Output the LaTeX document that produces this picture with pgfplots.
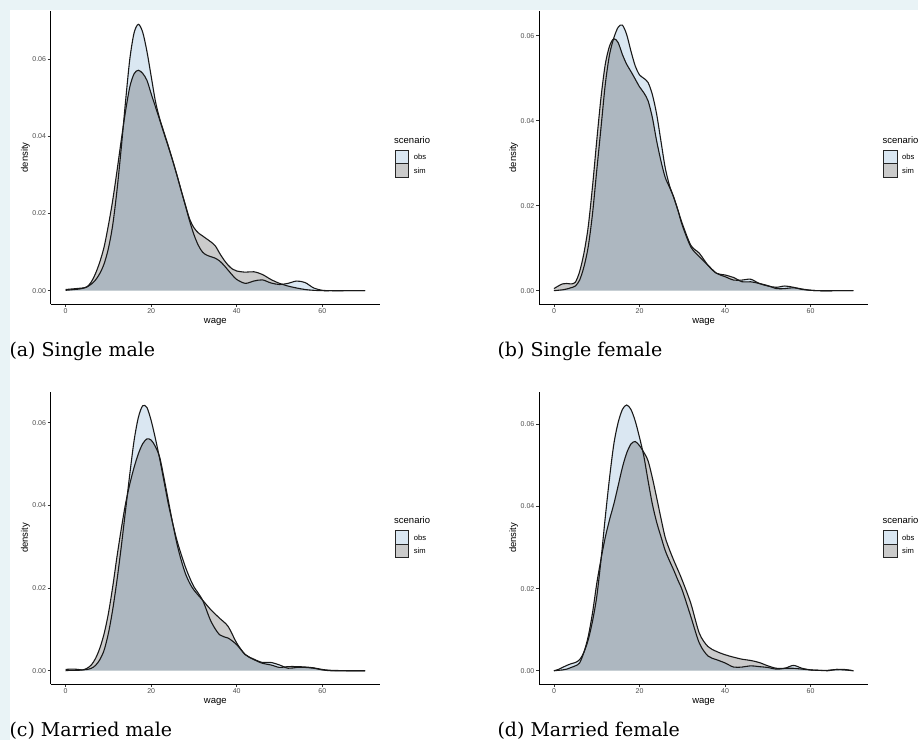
\documentclass[border=0pt]{standalone}
\usepackage{fontspec}
\setmainfont{Liberation Sans}
\newfontfamily\capfont{DejaVu Serif}
\usepackage{pgfplots}
\usepackage{pgfplotstable}
\pgfplotsset{compat=1.18}
\definecolor{bgblue}{HTML}{E9F3F6}
\definecolor{obsc}{HTML}{DAE7F2}
\definecolor{simc}{HTML}{CBCBCB}
\definecolor{ticklab}{HTML}{4D4D4D}
\definecolor{tickc}{HTML}{333333}

% (a) Single male
\pgfplotstableread{
w obs sim
0 0.0001 0.0003
1 0.0002 0.0004
2 0.0003 0.0005
3 0.0004 0.0006
4 0.0006 0.0007
5 0.0010 0.0010
6 0.0017 0.0023
7 0.0028 0.0045
8 0.0045 0.0075
9 0.0070 0.0114
10 0.0110 0.0170
11 0.0170 0.0234
12 0.0260 0.0310
13 0.0370 0.0390
14 0.0490 0.0465
15 0.0600 0.0528
16 0.0668 0.0562
17 0.0690 0.0571
18 0.0670 0.0563
19 0.0620 0.0545
20 0.0555 0.0510
21 0.0490 0.0476
22 0.0445 0.0442
23 0.0410 0.0407
24 0.0375 0.0373
25 0.0338 0.0338
26 0.0300 0.0300
27 0.0260 0.0260
28 0.0220 0.0222
29 0.0180 0.0185
30 0.0145 0.0163
31 0.0118 0.0150
32 0.0100 0.0142
33 0.0092 0.0134
34 0.0088 0.0126
35 0.0084 0.0116
36 0.0077 0.0097
37 0.0066 0.0080
38 0.0053 0.0066
39 0.0040 0.0056
40 0.0029 0.0051
42 0.0019 0.0048
44 0.0025 0.0049
46 0.0028 0.0042
48 0.0020 0.0029
50 0.0016 0.0019
52 0.0019 0.0012
54 0.0025 0.0007
56 0.0021 0.0003
58 0.0007 0.0001
60 0.0001 0.0000
62 0.0000 0.0000
66 0.0000 0.0000
70 0.0000 0.0000
}\tabA

% (b) Single female
\pgfplotstableread{
w obs sim
0 0.0000 0.0005
1 0.0001 0.0011
2 0.0002 0.0016
3 0.0004 0.0017
4 0.0007 0.0016
5 0.0011 0.0020
6 0.0025 0.0045
7 0.0056 0.0088
8 0.0103 0.0150
9 0.0180 0.0244
10 0.0283 0.0353
11 0.0384 0.0455
12 0.0486 0.0533
13 0.0556 0.0576
14 0.0595 0.0593
15 0.0620 0.0584
16 0.0625 0.0556
17 0.0603 0.0533
18 0.0564 0.0516
19 0.0529 0.0498
20 0.0508 0.0480
21 0.0500 0.0466
22 0.0490 0.0447
23 0.0462 0.0408
24 0.0416 0.0353
25 0.0353 0.0306
26 0.0290 0.0267
27 0.0248 0.0244
28 0.0220 0.0220
29 0.0189 0.0189
30 0.0154 0.0158
32 0.0103 0.0107
34 0.0080 0.0088
36 0.0060 0.0060
38 0.0041 0.0041
40 0.0033 0.0037
42 0.0025 0.0031
44 0.0025 0.0021
46 0.0027 0.0021
48 0.0017 0.0017
50 0.0011 0.0012
52 0.0008 0.0005
54 0.0011 0.0005
56 0.0008 0.0007
58 0.0003 0.0004
60 0.0001 0.0001
62 0.0000 0.0000
66 0.0000 0.0000
70 0.0000 0.0000
}\tabB

% (c) Married male
\pgfplotstableread{
w obs sim
0 0.0000 0.0003
1 0.0001 0.0004
2 0.0001 0.0004
3 0.0001 0.0003
4 0.0002 0.0002
5 0.0003 0.0006
6 0.0006 0.0014
7 0.0013 0.0030
8 0.0027 0.0055
9 0.0050 0.0090
10 0.0091 0.0139
11 0.0148 0.0203
12 0.0219 0.0276
13 0.0300 0.0343
14 0.0388 0.0404
15 0.0476 0.0452
16 0.0557 0.0492
17 0.0613 0.0525
18 0.0641 0.0549
19 0.0637 0.0561
20 0.0605 0.0558
21 0.0561 0.0542
22 0.0512 0.0516
23 0.0458 0.0466
24 0.0404 0.0412
25 0.0358 0.0358
26 0.0316 0.0308
27 0.0282 0.0268
28 0.0251 0.0235
29 0.0225 0.0212
30 0.0203 0.0195
32 0.0171 0.0171
34 0.0119 0.0147
36 0.0087 0.0127
38 0.0079 0.0107
40 0.0063 0.0067
42 0.0039 0.0039
44 0.0028 0.0027
46 0.0020 0.0018
48 0.0020 0.0014
50 0.0014 0.0008
52 0.0006 0.0010
54 0.0008 0.0010
56 0.0008 0.0009
58 0.0006 0.0007
60 0.0002 0.0003
62 0.0000 0.0001
66 0.0000 0.0000
70 0.0000 0.0000
}\tabC

% (d) Married female
\pgfplotstableread{
w obs sim
0 0.0000 0.0000
1 0.0003 0.0001
2 0.0008 0.0002
3 0.0013 0.0004
4 0.0017 0.0008
5 0.0020 0.0012
6 0.0027 0.0019
7 0.0045 0.0045
8 0.0075 0.0083
9 0.0120 0.0140
10 0.0180 0.0212
11 0.0270 0.0272
12 0.0374 0.0325
13 0.0470 0.0368
14 0.0552 0.0406
15 0.0604 0.0450
16 0.0636 0.0495
17 0.0647 0.0530
18 0.0636 0.0552
19 0.0608 0.0558
20 0.0568 0.0548
21 0.0523 0.0532
22 0.0463 0.0511
23 0.0406 0.0470
24 0.0362 0.0422
25 0.0327 0.0372
26 0.0293 0.0325
27 0.0268 0.0295
28 0.0245 0.0269
29 0.0220 0.0245
30 0.0196 0.0220
32 0.0132 0.0164
34 0.0067 0.0091
36 0.0036 0.0059
38 0.0027 0.0047
40 0.0019 0.0039
42 0.0009 0.0033
44 0.0009 0.0028
46 0.0012 0.0025
48 0.0010 0.0020
50 0.0008 0.0012
52 0.0004 0.0006
54 0.0006 0.0006
56 0.0013 0.0006
58 0.0006 0.0004
60 0.0002 0.0002
62 0.0001 0.0001
64 0.0000 0.0001
66 0.0003 0.0003
68 0.0002 0.0003
70 0.0000 0.0000
}\tabD

\pgfplotsset{
  dens/.style={
    scale only axis, width=329.3pt,
    axis x line*=bottom, axis y line*=left,
    axis line style={black, line width=1pt},
    xmin=-3.5, xmax=73.5,
    xtick={0,20,40,60}, ytick={0,0.02,0.04,0.06},
    scaled y ticks=false,
    tick align=outside, major tick length=3pt,
    every tick/.style={tickc, line width=0.7pt},
    /pgf/number format/assume math mode=true,
    ticklabel style={font=\fontsize{7}{8}\selectfont, text=ticklab},
    yticklabel style={/pgf/number format/fixed, /pgf/number format/fixed zerofill, /pgf/number format/precision=2, inner sep=1.5pt},
    xticklabel style={inner sep=1.5pt},
    xlabel={wage}, ylabel={density},
    label style={font=\fontsize{9.5}{11}\selectfont},
    xlabel style={at={(axis description cs:0.5,-0.0614)}, anchor=center},
    ylabel style={at={(axis description cs:-0.0771,0.5)}, anchor=center},
    clip=false,
    legend image code/.code={\draw[#1] (0pt,-6.65pt) rectangle (13.3pt,6.65pt);},
    legend cell align=left,
    legend style={draw=none, fill=none, inner sep=0pt, outer sep=0pt,
      row sep=-1.1pt, column sep=4.5pt,
      font=\fontsize{7.6}{9}\selectfont,
      at={(rel axis cs:1.0456,0.5256)}, anchor=north west,
      nodes={inner sep=0pt, text depth=0pt}},
  },
  obsfill/.style={smooth, fill=obsc, draw=none, forget plot},
  simfill/.style={smooth, fill=simc, draw=none, blend mode=multiply, forget plot},
  curve/.style={smooth, black!90, line width=1.1pt, forget plot},
}

\newcommand{\panel}[1]{%
  \addplot[obsfill] table[x=w, y=obs] {#1} \closedcycle;
  \addplot[simfill] table[x=w, y=sim] {#1} \closedcycle;
  \addplot[curve] table[x=w, y=obs] {#1};
  \addplot[curve] table[x=w, y=sim] {#1};
  \addlegendimage{fill=obsc, draw=black!85, line width=1.1pt}
  \addlegendentry{obs}
  \addlegendimage{fill=simc, draw=black!85, line width=1.1pt}
  \addlegendentry{sim}
  \node[anchor=base west, inner sep=0pt, font=\fontsize{9.5}{11}\selectfont] at (rel axis cs:1.0425,0.5495) {scenario};
}

\begin{document}
\begin{tikzpicture}
\fill[bgblue] (0pt,0pt) rectangle (918pt,-740pt);
\fill[white] (10pt,-10pt) rectangle (918pt,-740pt);

\begin{axis}[dens, at={(50.7pt,-304pt)}, anchor=south west, height=293pt,
  ymin=-0.00345, ymax=0.07245]
\panel{\tabA}
\end{axis}

\begin{axis}[dens, at={(539pt,-304pt)}, anchor=south west, height=293pt,
  ymin=-0.003135, ymax=0.065835]
\panel{\tabB}
\end{axis}

\begin{axis}[dens, at={(50.7pt,-684pt)}, anchor=south west, height=292.3pt,
  ymin=-0.003215, ymax=0.067515]
\panel{\tabC}
\end{axis}

\begin{axis}[dens, at={(539pt,-684pt)}, anchor=south west, height=292.3pt,
  ymin=-0.00323, ymax=0.06793]
\panel{\tabD}
\end{axis}

\node[anchor=base west, inner sep=0pt, font=\capfont\fontsize{19}{22}\selectfont] at (9.3pt,-356pt) {(a) Single male};
\node[anchor=base west, inner sep=0pt, font=\capfont\fontsize{19}{22}\selectfont] at (497.3pt,-356pt) {(b) Single female};
\node[anchor=base west, inner sep=0pt, font=\capfont\fontsize{19}{22}\selectfont] at (9.3pt,-736.7pt) {(c) Married male};
\node[anchor=base west, inner sep=0pt, font=\capfont\fontsize{19}{22}\selectfont] at (497.3pt,-736.7pt) {(d) Married female};

\pgfresetboundingbox
\useasboundingbox (0pt,0pt) rectangle (918pt,-740pt);
\end{tikzpicture}
\end{document}
